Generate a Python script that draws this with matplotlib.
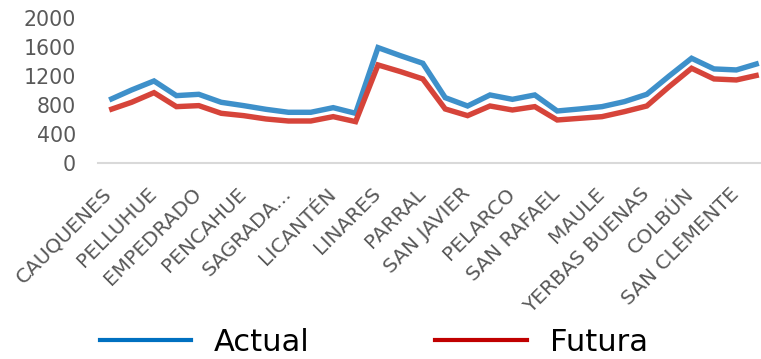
import matplotlib.pyplot as plt
import matplotlib.transforms as mtransforms
import numpy as np

# comunas de la Región del Maule (only every other one gets a label)
comunas = ["CAUQUENES", "CHANCO", "PELLUHUE", "CONSTITUCIÓN", "EMPEDRADO",
           "CUREPTO", "PENCAHUE", "HUALAÑÉ", "SAGRADA...", "VICHUQUÉN",
           "LICANTÉN", "RAUCO", "LINARES", "LONGAVÍ", "PARRAL", "RETIRO",
           "SAN JAVIER", "VILLA ALEGRE", "PELARCO", "RÍO CLARO", "SAN RAFAEL",
           "TALCA", "MAULE", "CURICÓ", "YERBAS BUENAS", "MOLINA", "COLBÚN",
           "ROMERAL", "SAN CLEMENTE", "TENO"]

actual = [869, 1007, 1131, 929, 947, 837, 791, 740, 699, 699,
          763, 685, 1591, 1480, 1375, 901, 786, 938, 878, 938,
          717, 745, 777, 846, 947, 1200, 1444, 1297, 1283, 1375]

futura = [731, 837, 970, 777, 791, 685, 653, 607, 579, 579,
          639, 570, 1352, 1260, 1159, 745, 653, 786, 731, 777,
          593, 616, 639, 708, 786, 1053, 1306, 1159, 1145, 1214]

yticks = [0, 400, 800, 1200, 1600, 2000]

fig = plt.figure(figsize=(7.61, 3.59), dpi=100)
ax = fig.add_axes([0.1288, 0.546, 0.883, 0.404])

x = np.arange(len(comunas))
ax.plot(x, actual, color="#3E90CA", lw=3.9, solid_joinstyle="miter",
        solid_capstyle="butt")
ax.plot(x, futura, color="#D6443A", lw=3.9, solid_joinstyle="miter",
        solid_capstyle="butt")

ax.set_xlim(-0.5, len(comunas) - 0.5)
ax.set_ylim(0, 2000)
ax.set_yticks(yticks)
ax.set_yticklabels([str(v) for v in yticks], fontsize=14.8, color="#595959")
ax.set_xticks(x[::2])
ax.set_xticklabels(comunas[::2], rotation=45, ha="right",
                   rotation_mode="anchor", fontsize=14.5, color="#595959")
ax.tick_params(axis="y", length=0, pad=16)
ax.tick_params(axis="x", length=0, pad=13)

# nudge the slanted names a little left/down
shift = mtransforms.ScaledTranslation(-7 / 100, -3 / 100, fig.dpi_scale_trans)
for lbl in ax.get_xticklabels():
    lbl.set_transform(lbl.get_transform() + shift)

for side in ["left", "right", "top"]:
    ax.spines[side].set_visible(False)
ax.spines["bottom"].set_color("#D9D9D9")
ax.spines["bottom"].set_linewidth(1.5)

# legend drawn with its own, more saturated colours
h1, = ax.plot([], [], color="#0070C0", lw=3)
h2, = ax.plot([], [], color="#C00000", lw=3)
fig.legend([h1, h2], ["Actual", "Futura"], loc="center",
           bbox_to_anchor=(0.491, 0.047), ncol=2, frameon=False,
           fontsize=22, handlelength=3.0, handletextpad=0.75,
           columnspacing=4.1)

fig.savefig("out.png", dpi=100)
